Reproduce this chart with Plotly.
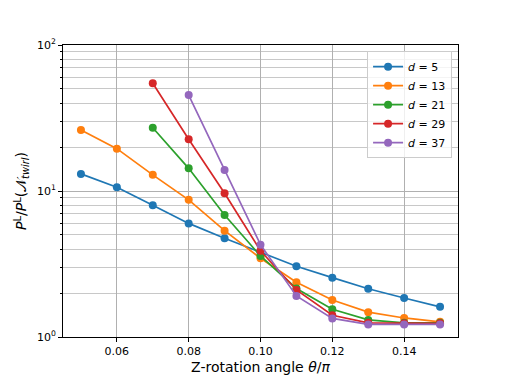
import plotly.graph_objects as go

# rotation angle theta/pi
angles = [0.05, 0.06, 0.07, 0.08, 0.09, 0.10, 0.11, 0.12, 0.13, 0.14, 0.15]

# ratio P^L / P^L(N_twirl) for each distance
d5 = [13.1, 10.6, 8.0, 6.0, 4.75, 3.82, 3.05, 2.55, 2.14, 1.85, 1.61]
d13 = [26.2, 19.5, 12.9, 8.7, 5.35, 3.46, 2.37, 1.79, 1.48, 1.35, 1.27]
d21 = [None, None, 27.1, 14.3, 6.85, 3.59, 2.15, 1.55, 1.31, 1.25, 1.25]
d29 = [None, None, 54.7, 22.6, 9.64, 3.9, 2.1, 1.41, 1.25, 1.24, 1.24]
d37 = [None, None, None, 45.4, 13.9, 4.29, 1.91, 1.34, 1.22, 1.22, 1.22]

series = [("5", d5), ("13", d13), ("21", d21), ("29", d29), ("37", d37)]
colors = ["#1f77b4", "#ff7f0e", "#2ca02c", "#d62728", "#9467bd"]

fig = go.Figure()
for (d, vals), c in zip(series, colors):
    xs = [a for a, v in zip(angles, vals) if v is not None]
    ys = [v for v in vals if v is not None]
    fig.add_trace(go.Scatter(
        x=xs, y=ys, mode="lines+markers",
        name=f"<i>d</i> = {d}",
        line=dict(color=c, width=1.7),
        marker=dict(color=c, size=8),
    ))

# page body adds an 8px offset, so the figure is drawn 8px smaller
fig.update_layout(
    width=500, height=373,
    margin=dict(l=55, r=50, t=37, b=44),
    paper_bgcolor="white", plot_bgcolor="white",
    font=dict(family="DejaVu Sans", size=11, color="black"),
    legend=dict(
        x=0.985, y=0.979, xanchor="right", yanchor="top",
        bordercolor="#cccccc", borderwidth=1, bgcolor="rgba(255,255,255,0.8)",
        font=dict(size=11), tracegroupgap=0,
    ),
)

fig.update_xaxes(
    range=[0.045, 0.155], tickvals=[0.06, 0.08, 0.10, 0.12, 0.14],
    ticktext=["0.06", "0.08", "0.10", "0.12", "0.14"],
    showline=True, linecolor="black", linewidth=1, mirror=True,
    ticks="outside", ticklen=4, tickcolor="black", automargin=False,
    showgrid=True, gridcolor="#b0b0b0", gridwidth=1, zeroline=False,
    title=dict(text="Z-rotation angle <i>θ</i>/<i>π</i>", font=dict(size=14), standoff=4),
)

fig.update_yaxes(
    type="log", range=[0, 2], tickvals=[1, 10, 100],
    ticktext=["10<sup>0</sup>", "10<sup>1</sup>", "10<sup>2</sup>"],
    showline=True, linecolor="black", linewidth=1, mirror=True,
    ticks="outside", ticklen=4, tickcolor="black", automargin=False,
    showgrid=True, gridcolor="#b0b0b0", gridwidth=1, zeroline=False,
    minor=dict(
        tickvals=[2, 3, 4, 5, 6, 7, 8, 9, 20, 30, 40, 50, 60, 70, 80, 90],
        ticks="outside", ticklen=2, tickcolor="black",
        showgrid=True, gridcolor="#c8c8c8", gridwidth=1,
    ),
    title=dict(
        text="<i>P</i><sup>L</sup>/<i>P</i><sup>L</sup>(𝒩<sub><i>twirl</i></sub>)",
        font=dict(size=14), standoff=6,
    ),
)

fig.write_html("out.html")
